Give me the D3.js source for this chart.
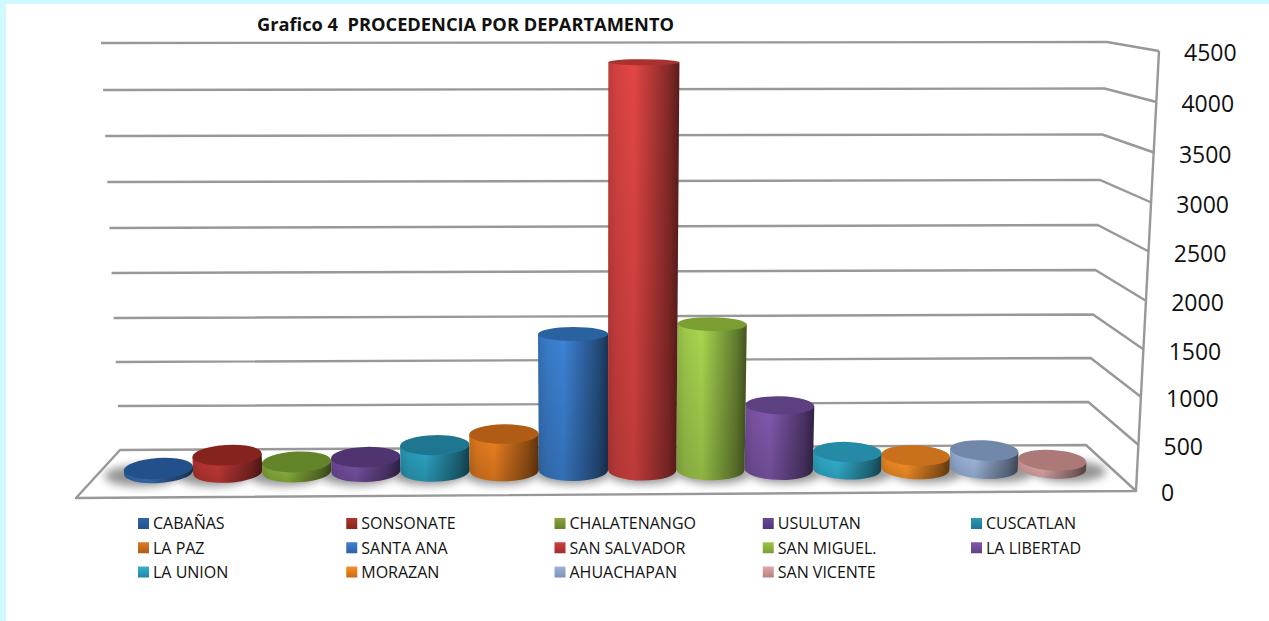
<!DOCTYPE html>
<html><head><meta charset="utf-8">
<style>html,body{margin:0;padding:0;background:#fff;overflow:hidden}svg{display:block}text{font-family:"Open Sans",sans-serif;fill:#111}</style>
<script src="https://cdn.jsdelivr.net/npm/d3@7/dist/d3.min.js"></script></head><body>
<script>
const categories = ["CABAÑAS","SONSONATE","CHALATENANGO","USULUTAN","CUSCATLAN","LA PAZ","SANTA ANA","SAN SALVADOR","SAN MIGUEL.","LA LIBERTAD","LA UNION","MORAZAN","AHUACHAPAN","SAN VICENTE"];
const values = [45,190,110,160,290,410,1500,4350,1600,710,190,147,200,87];
const tickValues = [0,500,1000,1500,2000,2500,3000,3500,4000,4500];
const titleText = "Grafico 4  PROCEDENCIA POR DEPARTAMENTO";
const litColors  = ["#3a74bd","#c63a37","#8fb83e","#7a52a8","#2da6c6","#ee8120","#3d83d6","#e24644","#a9d650","#8259ae","#33b5d6","#ff9428","#a3bce4","#e5acac"];
const topColors  = ["#22508a","#85231f","#64842a","#4f3470","#1f7690","#b05c14","#2a62a0","#a93231","#7a9e32","#5d4080","#258aa6","#c8701c","#7288ab","#ad7878"];
const swatchTop  = ["#2c66ab","#b03330","#84a438","#6a4896","#2b98b5","#e07a20","#3f80d0","#d04040","#9cc646","#7f58ad","#35b2d4","#f89028","#9fb4d8","#e0a8a8"];
const swatchBot  = ["#24508a","#85241f","#688229","#50367a","#1f7690","#b05c14","#2b62a4","#a02c2a","#7d9e33","#5f4088","#2284a0","#c86a14","#7e92b8","#b88080"];

const W=1269,H=621;
const svg=d3.select("body").append("svg").attr("width",W).attr("height",H);
const defs=svg.append("defs");
svg.append("rect").attr("width",W).attr("height",H).attr("fill","#cff9ff");
svg.append("rect").attr("x",6).attr("y",4).attr("width",W-6).attr("height",H-4).attr("fill","#fff");

// Projection of the 3D box, one pixel stop per gridline
const backLeftY  = d3.scaleLinear().domain(tickValues).range([450,406,362,318,273,228,182,136,90,43]);
const backLeftX  = d3.scaleLinear().domain([0,4500]).range([120,101]);
const backRightY = d3.scaleLinear().domain(tickValues).range([445,402,358,314.5,270,225,180,134.5,88.5,42]);
const backRightX = d3.scaleLinear().domain([0,4500]).range([1086,1107]);
const frontY     = d3.scaleLinear().domain(tickValues).range([491,445,397,349.5,301,251.5,202.5,152.5,102,51]);
const frontX     = d3.scaleLinear().domain([0,4500]).range([1136,1159]);
const midY = v => ((backLeftY(v)+backRightY(v))/2+frontY(v))/2+1;

// category slots, slightly wider left of the vanishing point
const slot = d3.scaleLinear().domain([0,7,14]).range([124,608,1086]);
const slotCentre = i => (slot(i)+slot(i+1))/2;
const slotHalf = i => (slot(i+1)-slot(i))/2;
const vanishX = 600;
const spread = d3.scaleLinear().domain([0,4500]).range([1,1.043]);
const px = (x,v) => vanishX+(x-vanishX)*spread(v);
const tilt = d3.scaleLinear().domain([124,1086]).range([2.4,-2.4]);
const ryScale = d3.scaleLinear().domain([62,334,406,445,470]).range([3,7,9,10,10.5]);
const angle = d3.scaleLinear().domain([124,600,1086]).range([-4,0,4]);

const gridStroke="#989898";
const floorPts=[[76,498],[frontX(0),frontY(0)],[backRightX(0),backRightY(0)],[backLeftX(0),backLeftY(0)]];
// floor
svg.append("path").attr("fill","#fff").attr("stroke",gridStroke).attr("stroke-width",2.4).attr("stroke-linejoin","round")
  .attr("d",d3.line()(floorPts)+"Z");
// gridlines
const grid=svg.append("g").attr("fill","none").attr("stroke",gridStroke).attr("stroke-width",2.4);
tickValues.filter(v=>v>0).forEach(v=>{
  grid.append("path").attr("d",d3.line()([[backLeftX(v),backLeftY(v)],[backRightX(v),backRightY(v)],[frontX(v),frontY(v)]]));
});
grid.append("path").attr("d",d3.line()([[frontX(0),frontY(0)],[frontX(4500),frontY(4500)]]));

// tick labels
svg.append("g").selectAll("text").data(tickValues).join("text")
  .attr("x",v=>frontX(v)+25).attr("y",v=>frontY(v)+2).attr("dy","0.36em")
  .attr("font-size",23).text(d=>d);

// title
svg.append("text").attr("x",257).attr("y",31).attr("font-size",17).attr("font-weight",700)
  .attr("textLength",417).attr("lengthAdjust","spacingAndGlyphs").style("white-space","pre").text(titleText);

// shadows
defs.append("filter").attr("id","blur").attr("x","-30%").attr("y","-100%").attr("width","160%").attr("height","300%")
  .append("feGaussianBlur").attr("stdDeviation",4.5);
defs.append("clipPath").attr("id","floorClip").append("path").attr("d",d3.line()(floorPts)+"Z");
const shadow=svg.append("g").attr("clip-path","url(#floorClip)").append("g").attr("filter","url(#blur)").attr("opacity",0.8);
categories.forEach((c,i)=>{
  const x=slotCentre(i), y=midY(0)+tilt(x);
  shadow.append("ellipse").attr("cx",x+(x-vanishX)*0.04).attr("cy",y+3.5)
    .attr("rx",slotHalf(i)+2).attr("ry",10.5).attr("fill","#7a7a7a");
});

// cylinders, outermost first
categories.forEach((c,i)=>{
  const g=defs.append("linearGradient").attr("id","side"+i).attr("x1",0).attr("x2",1).attr("y1",0).attr("y2",0);
  const col=d3.color(litColors[i]);
  [[0,col.darker(0.5)],[0.12,col.darker(0.2)],[0.36,col],[0.62,col.darker(0.7)],[0.85,col.darker(1.5)],[1,col.darker(2.6)]]
    .forEach(([o,k])=>g.append("stop").attr("offset",o).attr("stop-color",k));
  const s=defs.append("linearGradient").attr("id","swatch"+i).attr("x1",0).attr("x2",0).attr("y1",0).attr("y2",1);
  s.append("stop").attr("offset",0).attr("stop-color",swatchTop[i]);
  s.append("stop").attr("offset",1).attr("stop-color",swatchBot[i]);
});
const vfade=defs.append("linearGradient").attr("id","vfade").attr("x1",0).attr("x2",0).attr("y1",0).attr("y2",1);
vfade.append("stop").attr("offset",0).attr("stop-color","#000").attr("stop-opacity",0);
vfade.append("stop").attr("offset",1).attr("stop-color","#000").attr("stop-opacity",0.16);

const order=d3.range(categories.length).sort((a,b)=>
  Math.abs(slotCentre(b)-vanishX-40)-Math.abs(slotCentre(a)-vanishX-40));
const bars=svg.append("g");
order.forEach(i=>{
  const v=values[i], x0=slotCentre(i);
  const a=angle(x0), rad=a*Math.PI/180;
  const bx=x0, by=midY(0)+tilt(x0), brx=slotHalf(i), bry=ryScale(by);
  const tx=px(x0,v), ty=midY(v)+tilt(x0), trx=brx*spread(v), tr=ryScale(ty);
  const ca=Math.cos(rad), sa=Math.sin(rad);
  const d=`M${tx-trx*ca},${ty-trx*sa}L${tx+trx*ca},${ty+trx*sa}`+
          `L${bx+brx*ca},${by+brx*sa}A${brx},${bry} ${a} 0 1 ${bx-brx*ca},${by-brx*sa}Z`;
  const g=bars.append("g");
  g.append("path").attr("d",d).attr("fill",`url(#side${i})`);
  g.append("path").attr("d",d).attr("fill","url(#vfade)");
  g.append("ellipse").attr("cx",tx).attr("cy",ty).attr("rx",trx).attr("ry",tr)
    .attr("transform",`rotate(${a} ${tx} ${ty})`).attr("fill",topColors[i]);
});

// legend
const colX=d3.scalePoint().domain(d3.range(5)).range([138,971]);
const rowY=d3.scalePoint().domain(d3.range(3)).range([523.5,572]);
const legend=svg.append("g").selectAll("g").data(categories).join("g")
  .attr("transform",(d,i)=>`translate(${colX(i%5)},${rowY(Math.floor(i/5))})`);
legend.append("rect").attr("x",0).attr("y",-5.5).attr("width",11).attr("height",11).attr("fill",(d,i)=>`url(#swatch${i})`);
legend.append("text").attr("x",15).attr("dy","0.36em").attr("font-size",16).text(d=>d);
</script></body></html>
